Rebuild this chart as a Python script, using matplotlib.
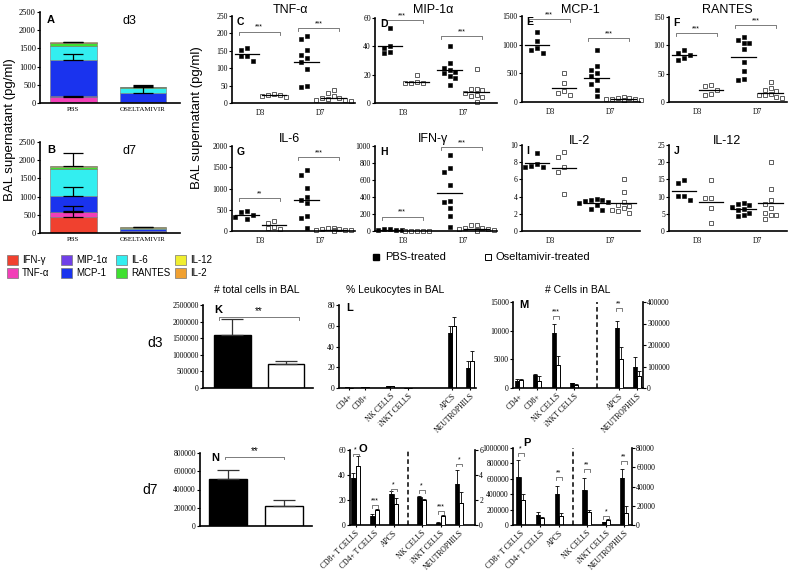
import numpy as np
import matplotlib
matplotlib.use('Agg')
import matplotlib.pyplot as plt
from matplotlib.patches import Rectangle

plt.rcParams['font.family'] = ['Liberation Serif', 'DejaVu Serif']
SANS = ['Liberation Sans', 'DejaVu Sans']

# ------------------------------------------------------------------ data
cytokines = ['IFN-γ', 'TNF-α', 'MIP-1α', 'MCP-1', 'IL-6', 'RANTES', 'IL-12', 'IL-2']
group_names = ['PBS D3', 'Oseltamivir D3', 'PBS D7', 'Oseltamivir D7']
day_labels = ['D3', 'D7']
treat_labels = ['PBS', 'OSELTAMIVIR']

# individual animals per group: [PBS D3, Osel D3, PBS D7, Osel D7]
tnf_pts = [[159, 151, 136, 135, 121], [27, 24, 22, 20, 18],
           [192, 185, 152, 138, 130, 117, 99, 50, 46], [38, 28, 20, 15, 14, 12, 10, 8, 6]]
tnf_means = [140, 22, 117, 15]
mip_pts = [[53, 40, 39, 36, 35], [20, 15, 14, 14, 14],
           [40, 28, 25, 23, 22, 21, 19, 18, 12.5], [24, 10, 10, 9, 7, 6, 5, 4, 0.5]]
mip_means = [40, 15, 23, 8]
mcp_pts = [[1220, 1070, 940, 910, 860], [500, 330, 200, 150, 120],
           [910, 630, 550, 500, 450, 380, 320, 210, 110], [85, 75, 65, 55, 50, 45, 40, 35, 30]]
mcp_means = [1000, 245, 426, 55]
rantes_pts = [[91, 86, 83, 77, 75], [30, 28, 21, 14, 13],
              [114, 109, 105, 104, 93, 71, 55, 40, 38], [35, 25, 22, 19, 15, 13, 12, 9, 7]]
rantes_means = [83, 22, 79, 16]
il6_pts = [[460, 450, 370, 340, 290], [240, 190, 100, 60, 50],
           [1430, 1310, 1020, 790, 720, 650, 350, 300, 80], [75, 60, 45, 40, 30, 25, 20, 15, 10]]
il6_means = [370, 130, 730, 30]
ifn_pts = [[25, 20, 15, 10, 8], [3, 2, 2, 2, 1],
           [895, 740, 700, 545, 355, 345, 265, 180, 50], [70, 65, 40, 30, 25, 20, 15, 10, 5]]
ifn_means = [15, 2, 450, 25]
il2_pts = [[9.1, 7.8, 7.6, 7.5, 7.4], [9.2, 8.6, 7.4, 6.9, 4.3],
           [3.7, 3.6, 3.6, 3.5, 3.4, 3.2, 3.0, 2.6, 2.5], [6.0, 4.5, 3.4, 3.0, 2.9, 2.7, 2.5, 2.3, 2.1]]
il2_means = [7.9, 7.3, 3.3, 3.3]
il12_pts = [[14.8, 14.0, 10.3, 10.2, 9.0], [14.7, 9.7, 9.7, 6.7, 2.2],
            [8.2, 7.8, 7.5, 7.0, 6.5, 6.0, 5.2, 4.7, 4.4], [20, 12.2, 9.0, 7.8, 6.7, 5.2, 4.7, 4.6, 3.5]]
il12_means = [11.6, 8.5, 6.5, 8.0]

# error bars on stacked bars: (cytokine index whose cumulative top carries the bar, error)
errA_pbs_idx, errA_pbs = [1, 3, 7], [30, 140, 20]
errA_osl_idx, errA_osl = [3, 7], [170, 30]
errB_pbs_idx, errB_pbs = [0, 1, 3, 7], [290, 40, 240, 370]
errB_osl_idx, errB_osl = [7], [15]

# cell counts
k_vals, k_err = [1600000, 710000], [470000, 90000]
n_vals, n_err = [520000, 220000], [90000, 60000]

LM_cats = ['CD4+', 'CD8+', 'NK CELLS', 'iNKT CELLS', 'APCS', 'NEUTROPHILS']
l_pbs, l_pbs_err = [0.5, 0.8, 1.8, 0.3, 53, 19], [0.2, 0.2, 0.3, 0.1, 7, 7]
l_osl, l_osl_err = [0.3, 0.5, 1.6, 0.2, 60, 26], [0.1, 0.2, 0.3, 0.1, 8, 10]
m_pbs, m_pbs_err = [1200, 2200, 9600, 800, 280000, 97000], [300, 300, 1500, 150, 30000, 48000]
m_osl, m_osl_err = [1400, 1300, 4000, 600, 135000, 55000], [250, 800, 1500, 100, 55000, 22000]

OP_cats = ['CD8+ T CELLS', 'CD4+ T CELLS', 'APCS', 'NK CELLS', 'iNKT CELLS', 'NEUTROPHILS']
o_pbs, o_pbs_err = [38, 7.5, 25, 2.25, 0.2, 3.3], [3.5, 1.0, 2.5, 0.1, 0.05, 1.1]
o_osl, o_osl_err = [47, 12, 17, 2.0, 0.7, 1.75], [8, 0.8, 5, 0.1, 0.08, 0.9]
p_pbs, p_pbs_err = [620000, 125000, 400000, 36000, 3000, 49000], [220000, 45000, 110000, 12500, 500, 9000]
p_osl, p_osl_err = [330000, 90000, 120000, 14000, 5000, 12500], [70000, 10000, 30000, 2000, 1000, 7000]

# ------------------------------------------------------------------ layout helpers
W, H = 789, 572
fig = plt.figure(figsize=(W / 100, H / 100), dpi=100)
fig.patch.set_facecolor('white')

ov = fig.add_axes([0, 0, 1, 1])
ov.set_xlim(0, W)
ov.set_ylim(H, 0)
ov.axis('off')
ov.set_zorder(-1)


def axpx(l, t, r, b):
    return fig.add_axes([l / W, 1 - b / H, (r - l) / W, (b - t) / H])


def prism(ax, fs=5.5, right=False):
    ax.patch.set_alpha(0)
    ax.spines['top'].set_visible(False)
    ax.spines['right'].set_visible(right)
    for s in ['left', 'bottom', 'right']:
        ax.spines[s].set_linewidth(1.2)
    ax.tick_params(direction='out', length=2, width=0.8, labelsize=fs, pad=1)


def fmt(v):
    return str(int(v)) if float(v).is_integer() else str(v)


def spread(vals, yr, hpx):
    thr = 5.5 / hpx * yr
    order = np.argsort(vals)[::-1]
    offs = np.zeros(len(vals))
    placed = []
    cands = [0, -0.22, 0.22, -0.44, 0.44, -0.66, 0.66]
    for i in order:
        for c in cands:
            if all(not (abs(vals[i] - vals[j]) < thr and abs(c - offs[j]) < 0.2) for j in placed):
                offs[i] = c
                break
        placed.append(i)
    return offs


def bracket(ax, x1, x2, y, txt, yr, fs=5, col='#666666'):
    d = 0.035 * yr
    ax.plot([x1, x1, x2, x2], [y - d, y, y, y - d], color=col, lw=0.6, clip_on=False)
    ax.text((x1 + x2) / 2, y + 0.01 * yr, txt, ha='center', va='bottom', fontsize=fs,
            family=SANS, clip_on=False)


# ------------------------------------------------------------------ A / B stacked bars
stack_colors = ['#f0412f', '#f23fb8', '#7040e8', '#1a33ee', '#33eef0', '#3fe030', '#f0ee30', '#f0a030']
all_means = [ifn_means, tnf_means, mip_means, mcp_means, il6_means, rantes_means, il12_means, il2_means]


def stacked_panel(box, gi_pbs, gi_osl, errs, letter, day):
    l, t, r, b = box
    ax = axpx(l, t, r, b)
    prism(ax, 6)
    ax.set_xlim(-0.48, 1.53)
    ax.set_ylim(0, 2500)
    ax.set_yticks(range(0, 2501, 500))
    ax.set_xticks([0, 1])
    ax.set_xticklabels(treat_labels, fontsize=5)
    ax.tick_params(axis='x', length=0, pad=3)
    for xi, gi in enumerate([gi_pbs, gi_osl]):
        bottom = 0
        tops = []
        for ci in range(len(cytokines)):
            v = all_means[ci][gi]
            ax.bar(xi, v, 0.67, bottom=bottom, color=stack_colors[ci], edgecolor='#777777', linewidth=0.4)
            bottom += v
            tops.append(bottom)
        idx, ev = errs[xi]
        for i, e in zip(idx, ev):
            ax.errorbar(xi, tops[i], yerr=[[0], [e]], fmt='none', ecolor='black', elinewidth=0.9,
                        capsize=7, capthick=0.9)
    ax.text(0.05, 0.97, letter, transform=ax.transAxes, fontsize=8, fontweight='bold', family=SANS,
            va='top')
    ax.text(0.64, 0.97, day, transform=ax.transAxes, fontsize=9, family=SANS, va='top', ha='center')
    return ax


stacked_panel((40, 12, 180, 103), 0, 1, [(errA_pbs_idx, errA_pbs), (errA_osl_idx, errA_osl)], 'A', 'd3')
stacked_panel((40, 142, 180, 233), 2, 3, [(errB_pbs_idx, errB_pbs), (errB_osl_idx, errB_osl)], 'B', 'd7')
ov.text(10, 130, 'BAL supernatant (pg/ml)', rotation=90, ha='center', va='center', fontsize=9.5, family=SANS)

# stacked legend
col_x = [7, 61, 116, 175]
row_y = [260, 273]
for ci, name in enumerate(cytokines):
    c, rw = ci // 2, ci % 2
    x = col_x[c]
    y = row_y[rw]
    ov.add_patch(Rectangle((x, y - 5), 11, 10, facecolor=stack_colors[ci], edgecolor='#777777', lw=0.5))
    ov.text(x + 15, y, name, fontsize=7, family=SANS, va='center', ha='left')

# ------------------------------------------------------------------ C-J scatter
XP = [1, 2, 3.2, 4.2]


def scatter_panel(box, ylim, yticks, pts, means, title, letter, brackets, title_y):
    l, t, r, b = box
    ax = axpx(l, t, r, b)
    prism(ax, 5.5)
    ax.set_xlim(0.44, 0.44 + (r - l) / 27.0)
    ax.set_ylim(*ylim)
    ax.set_yticks(yticks)
    ax.set_yticklabels([fmt(v) for v in yticks])
    ax.set_xticks([1.5, 3.7])
    ax.set_xticklabels(day_labels)
    ax.tick_params(axis='x', length=0, pad=4)
    yr = ylim[1] - ylim[0]
    for i in range(4):
        v = np.asarray(pts[i], float)
        off = spread(v, yr, b - t)
        if i % 2 == 0:
            ax.plot(XP[i] + off, v, 's', ms=3.0, mfc='black', mec='black', mew=0.4, clip_on=False)
        else:
            ax.plot(XP[i] + off, v, 's', ms=3.0, mfc='white', mec='#444444', mew=0.6, clip_on=False)
        ax.plot([XP[i] - 0.45, XP[i] + 0.45], [means[i]] * 2, color='black', lw=0.9)
    for g, y, s in brackets:
        bracket(ax, XP[2 * g] - 0.3, XP[2 * g + 1] + 0.2, y, s, yr)
    ov.text(l + 58, title_y, title, fontsize=9, family=SANS, ha='center', va='center')
    ax.text(0.04, 0.99, letter, transform=ax.transAxes, fontsize=7.5, fontweight='bold', family=SANS,
            va='top')
    return ax


scatter_panel((232, 16, 355, 103), (0, 250), range(0, 251, 50), tnf_pts, tnf_means, 'TNF-α', 'C',
              [(0, 205, '***'), (1, 215, '***')], 10)
scatter_panel((375, 18, 497, 103), (0, 60), range(0, 61, 20), mip_pts, mip_means, 'MIP-1α', 'D',
              [(0, 58.5, '***'), (1, 47, '***')], 10)
scatter_panel((522, 16, 640, 102), (0, 1500), range(0, 1501, 500), mcp_pts, mcp_means, 'MCP-1', 'E',
              [(0, 1440, '***'), (1, 1110, '***')], 10)
scatter_panel((669, 17, 787, 102), (0, 150), range(0, 151, 50), rantes_pts, rantes_means, 'RANTES', 'F',
              [(0, 121, '***'), (1, 136, '***')], 10)
scatter_panel((232, 146, 355, 231), (0, 2000), range(0, 2001, 500), il6_pts, il6_means, 'IL-6', 'G',
              [(0, 770, '**'), (1, 1740, '***')], 139)
scatter_panel((375, 146, 497, 231), (0, 1000), range(0, 1001, 200), ifn_pts, ifn_means, 'IFN-γ', 'H',
              [(0, 170, '***'), (1, 985, '***')], 139)
scatter_panel((522, 145, 640, 231), (0, 10), range(0, 11, 2), il2_pts, il2_means, 'IL-2', 'I', [], 141)
scatter_panel((669, 145, 787, 231), (0, 25), range(0, 26, 5), il12_pts, il12_means, 'IL-12', 'J', [], 141)

ov.text(197, 118, 'BAL supernatant (pg/ml)', rotation=90, ha='center', va='center', fontsize=9.5, family=SANS)
ov.plot([376], [257], 's', ms=5, mfc='black', mec='black')
ov.text(385, 257, 'PBS-treated', fontsize=8, family=SANS, va='center')
ov.plot([488], [257], 's', ms=5, mfc='white', mec='black', mew=0.7)
ov.text(496, 257, 'Oseltamivir-treated', fontsize=8, family=SANS, va='center')


# ------------------------------------------------------------------ K / N totals
def total_panel(box, xlim, ylim, yticks, vals, errs, letter, br, bx):
    l, t, r, b = box
    ax = axpx(l, t, r, b)
    prism(ax, 5.5)
    ax.set_xlim(*xlim)
    ax.set_ylim(*ylim)
    ax.set_yticks(yticks)
    ax.set_yticklabels([fmt(v) for v in yticks])
    ax.set_xticks([])
    ax.bar([0, 1], vals, 0.68, color=['black', 'white'], edgecolor='black', linewidth=1.0,
           yerr=[[0, 0], errs], error_kw=dict(elinewidth=0.9, capsize=8, capthick=0.9, ecolor='#333333'))
    bracket(ax, bx[0], bx[1], br, '**', ylim[1], fs=7)
    ax.text(0.1, 1.0, letter, transform=ax.transAxes, fontsize=8, fontweight='bold', family=SANS, va='top')
    return ax


total_panel((203, 305, 313, 388), (-0.55, 1.51), (0, 2500000), range(0, 2500001, 500000),
            k_vals, k_err, 'K', 2150000, (-0.25, 1.25))
total_panel((200, 453, 312, 526), (-0.51, 1.5), (0, 800000), range(0, 800001, 200000),
            n_vals, n_err, 'N', 760000, (-0.06, 1.0))
ov.text(257, 290, '# total cells in BAL', fontsize=7.5, family=SANS, ha='center', va='center')
ov.text(155, 343, 'd3', fontsize=10, family=SANS, ha='center', va='center')
ov.text(150, 490, 'd7', fontsize=10, family=SANS, ha='center', va='center')

# ------------------------------------------------------------------ L M O P grouped
BW = 4.2


def draw_pairs(ax, xs, pv, pe, ov_, oe):
    xs = np.asarray(xs, float)
    n = len(xs)
    ekw = dict(elinewidth=0.6, capsize=1.3, capthick=0.6, ecolor='black')
    ax.bar(xs - BW / 2, pv, BW, color='black', edgecolor='black', linewidth=0.5,
           yerr=[np.zeros(n), pe], error_kw=ekw)
    ax.bar(xs + BW / 2, ov_, BW, color='white', edgecolor='black', linewidth=0.7,
           yerr=[np.zeros(n), oe], error_kw=ekw)


def group_panel(box, xs, cats, ylim, yticks, pv, pe, ovv, oe, nleft, letter,
                ylim2=None, yticks2=None, dash=None, brL=(), brR=(), letter_xy=(0.05, 1.02)):
    l, t, r, b = box
    ax = axpx(l, t, r, b)
    prism(ax, 5.5)
    ax.set_xlim(0, r - l)
    ax.set_ylim(*ylim)
    ax.set_yticks(yticks)
    ax.set_yticklabels([fmt(v) for v in yticks])
    ax.set_xticks(xs)
    ax.set_xticklabels(cats, rotation=45, ha='right', rotation_mode='anchor', fontsize=5.5)
    ax.tick_params(axis='x', length=1.5, pad=1.5)
    draw_pairs(ax, xs[:nleft], pv[:nleft], pe[:nleft], ovv[:nleft], oe[:nleft])
    for i, y, s in brL:
        bracket(ax, xs[i] - 3, xs[i] + 3, y, s, ylim[1] - ylim[0], fs=5)
    if ylim2 is not None:
        ax2 = ax.twinx()
        prism(ax2, 5.5, right=True)
        ax2.spines['left'].set_visible(False)
        ax2.spines['bottom'].set_visible(False)
        ax2.set_ylim(*ylim2)
        ax2.set_yticks(yticks2)
        ax2.set_yticklabels([fmt(v) for v in yticks2])
        draw_pairs(ax2, xs[nleft:], pv[nleft:], pe[nleft:], ovv[nleft:], oe[nleft:])
        for i, y, s in brR:
            bracket(ax2, xs[i] - 3, xs[i] + 3, y, s, ylim2[1] - ylim2[0], fs=5)
    else:
        draw_pairs(ax, xs[nleft:], pv[nleft:], pe[nleft:], ovv[nleft:], oe[nleft:])
    if dash is not None:
        ax.axvline(dash, color='black', lw=1.1, ls=(0, (3, 2)))
    ax.text(letter_xy[0], letter_xy[1], letter, transform=ax.transAxes, fontsize=8, fontweight='bold',
            family=SANS, va='top')
    return ax


group_panel((339, 305, 476, 388), [10, 26, 51, 69, 113, 131], LM_cats, (0, 80), range(0, 81, 20),
            l_pbs, l_pbs_err, l_osl, l_osl_err, 6, 'L')
ov.text(395, 290, '% Leukocytes in BAL', fontsize=7.5, family=SANS, ha='center', va='center')

group_panel((513, 302, 643, 388), [6, 24, 43, 61, 106, 124], LM_cats, (0, 15000), range(0, 15001, 5000),
            m_pbs, m_pbs_err, m_osl, m_osl_err, 4, 'M',
            ylim2=(0, 400000), yticks2=range(0, 400001, 100000), dash=84,
            brL=[(2, 12500, '***')], brR=[(4, 370000, '**')])
ov.text(578, 290, '# Cells in BAL', fontsize=7.5, family=SANS, ha='center', va='center')

group_panel((350, 450, 475, 525), [5.5, 24.5, 43.5, 71.5, 90.5, 109], OP_cats, (0, 60), range(0, 61, 20),
            o_pbs, o_pbs_err, o_osl, o_osl_err, 3, 'O',
            ylim2=(0, 6), yticks2=range(0, 7, 2), dash=58,
            brL=[(0, 57, '*'), (1, 16, '***'), (2, 29, '*')],
            brR=[(3, 2.8, '*'), (4, 1.1, '***'), (5, 4.9, '*')], letter_xy=(0.07, 1.08))

group_panel((513, 448, 632, 525), [7.5, 27, 46, 73.5, 93, 111], OP_cats, (0, 1000000),
            range(0, 1000001, 200000), p_pbs, p_pbs_err, p_osl, p_osl_err, 3, 'P',
            ylim2=(0, 80000), yticks2=range(0, 80001, 20000), dash=60,
            brL=[(0, 930000, '*'), (2, 620000, '**')],
            brR=[(3, 58000, '**'), (4, 9500, '*'), (5, 66000, '**')], letter_xy=(0.09, 1.13))

fig.savefig('out.png', dpi=100, facecolor='white')
